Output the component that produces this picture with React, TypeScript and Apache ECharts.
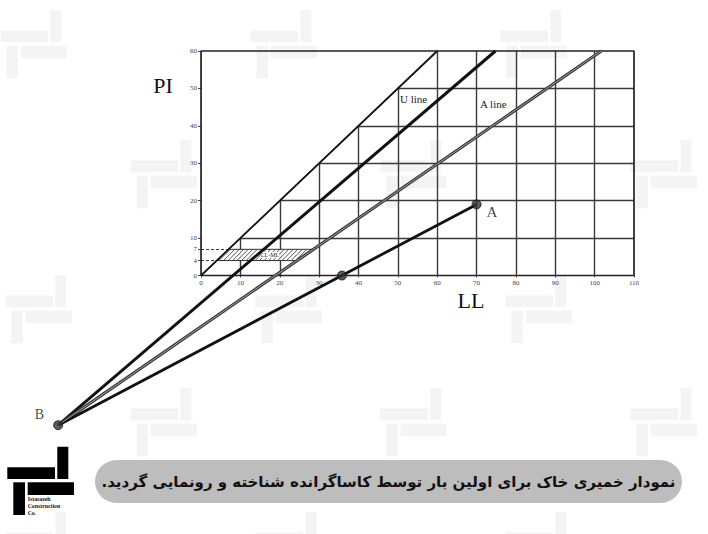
import React, { useEffect, useRef } from "react";
import * as echarts from "echarts";

// ---- data ----
const llTicks = [0, 10, 20, 30, 40, 50, 60, 70, 80, 90, 100, 110];
const piTicks = [0, 4, 7, 10, 20, 30, 40, 50, 60];
const gridLL = [10, 20, 30, 40, 50, 60, 70, 80, 90, 100];
const gridPI = [10, 20, 30, 40, 50];
const dashedPI = [4, 7];
const boxPts = [[0, 0], [0, 60], [110, 60], [110, 0], [0, 0]];
const limitLine = [[0, 0], [60, 60]];
const pointB = [-36.3, -40];
const pointMid = [35.8, 0];
const pointA = [70, 19];
const uLineEnd = [74.8, 60];
const aLineEnd = [101.7, 60];
const clmlZone = [[4, 4], [7, 7], [28.5, 7], [24.4, 4]];
const caption = "نمودار خمیری خاک برای اولین بار توسط کاساگرانده شناخته و رونمایی گردید.";
const logoLines = ["Istasazeh", "Construction", "Co."];

const SERIF = "'Liberation Serif', 'DejaVu Serif', serif";

// layout (pixels)
const X_MIN = -40, X_MAX = 110, Y_MIN = -50, Y_MAX = 60;
const G_LEFT = 43.6, G_RIGHT = 74, G_TOP = 51, G_BOTTOM = 71.4;

function clipSeg(p0: number[], p1: number[], poly: number[][]) {
  const cx = poly.reduce((s, p) => s + p[0], 0) / poly.length;
  const cy = poly.reduce((s, p) => s + p[1], 0) / poly.length;
  let t0 = 0, t1 = 1;
  const dx = p1[0] - p0[0], dy = p1[1] - p0[1];
  for (let i = 0; i < poly.length; i++) {
    const e0 = poly[i], e1 = poly[(i + 1) % poly.length];
    let nx = -(e1[1] - e0[1]), ny = e1[0] - e0[0];
    if (nx * (cx - e0[0]) + ny * (cy - e0[1]) < 0) { nx = -nx; ny = -ny; }
    const num = nx * (p0[0] - e0[0]) + ny * (p0[1] - e0[1]);
    const den = nx * dx + ny * dy;
    if (Math.abs(den) < 1e-9) { if (num < 0) return null; continue; }
    const t = -num / den;
    if (den > 0) t0 = Math.max(t0, t); else t1 = Math.min(t1, t);
  }
  if (t0 >= t1) return null;
  return [p0[0] + t0 * dx, p0[1] + t0 * dy, p0[0] + t1 * dx, p0[1] + t1 * dy];
}

function logo(ox: number, oy: number, fill: string) {
  return [
    [50.3, 0, 11, 32.3], [0.3, 20.6, 47.7, 11.7], [20.7, 35.6, 46.3, 12.7], [6.3, 35.6, 11.7, 32.7],
  ].map(([x, y, w, h]) => ({
    type: "rect", silent: true, shape: { x: ox + x, y: oy + y, width: w, height: h }, style: { fill },
  }));
}

const watermarkOrigins = [
  [0, 10], [250, 10], [500, 10],
  [130, 140], [380, 140], [630, 140],
  [5, 275], [255, 275], [505, 275],
  [130, 388], [380, 388], [630, 388],
  [5, 512], [255, 512], [505, 512],
];

export default function App() {
  const ref = useRef<HTMLDivElement>(null);
  useEffect(() => {
    if (!ref.current) return;
    const chart = echarts.init(ref.current, null, { renderer: "svg" });

    const plotW = 708 - G_LEFT - G_RIGHT;
    const plotH = 534 - G_TOP - G_BOTTOM;
    // shift axes so that they sit at LL = 0 / PI = 0
    const xAxisOffset = -((0 - Y_MIN) / (Y_MAX - Y_MIN)) * plotH;
    const yAxisOffset = -((0 - X_MIN) / (X_MAX - X_MIN)) * plotW;

    const gridSegs = [
      ...gridLL.map((l) => ({ coords: [[l, 0], [l, Math.min(l, 60)]] })),
      ...gridPI.map((p) => ({ coords: [[p, p], [110, p]] })),
    ];
    const dashSegs = dashedPI.map((p) => ({ coords: [[0, p], [p, p]] }));

    const lineSeries = (data: number[][], color: string, width: number, z = 3) => ({
      type: "line", data, symbol: "none", z, silent: true,
      lineStyle: { color, width }, clip: false,
    });

    const wm: any[] = [];
    watermarkOrigins.forEach(([x, y]) => wm.push(...logo(x, y, "#f4f4f4")));

    chart.setOption({
      animation: false,
      backgroundColor: "#ffffff",
      grid: { left: G_LEFT, right: G_RIGHT, top: G_TOP, bottom: G_BOTTOM, containLabel: false },
      xAxis: {
        type: "value", min: X_MIN, max: X_MAX, position: "bottom", offset: xAxisOffset,
        axisLine: { show: false, onZero: false },
        splitLine: { show: false },
        axisTick: { show: true, customValues: llTicks, length: 2, lineStyle: { color: "#444" } },
        axisLabel: { customValues: llTicks, fontSize: 7, fontFamily: SERIF, color: "#444", margin: 4 },
      },
      yAxis: {
        type: "value", min: Y_MIN, max: Y_MAX, position: "left", offset: yAxisOffset,
        axisLine: { show: false, onZero: false },
        splitLine: { show: false },
        axisTick: { show: true, customValues: piTicks, length: 3, lineStyle: { color: "#444" } },
        axisLabel: { customValues: piTicks, fontSize: 7, fontFamily: SERIF, color: "#444", margin: 4 },
      },
      graphic: [
        ...wm,
        { type: "text", silent: true, style: { text: "PI", x: 163, y: 85, fontSize: 22, fontFamily: SERIF, fill: "#111", textAlign: "center", textVerticalAlign: "middle" } },
        { type: "text", silent: true, style: { text: "LL", x: 471, y: 300, fontSize: 22, fontFamily: SERIF, fill: "#111", textAlign: "center", textVerticalAlign: "middle" } },
        { type: "text", silent: true, z: 10, style: { text: "U line", x: 400, y: 99, fontSize: 11, fontFamily: SERIF, fill: "#222", textAlign: "left", textVerticalAlign: "middle" } },
        { type: "text", silent: true, z: 10, style: { text: "A line", x: 480, y: 104, fontSize: 11, fontFamily: SERIF, fill: "#222", textAlign: "left", textVerticalAlign: "middle" } },
        { type: "rect", silent: true, shape: { x: 95, y: 460, width: 587, height: 43, r: 21.5 }, style: { fill: "#bdbdbd" } },
        { type: "text", silent: true, style: { text: caption + "\u200F", x: 388.5, y: 482, fontSize: 15, fontWeight: "bold", fontFamily: "'DejaVu Sans', sans-serif", fill: "#111", textAlign: "center", textVerticalAlign: "middle" } },
        ...logo(7, 446.7, "#000"),
        ...logoLines.map((t, i) => ({
          type: "text", silent: true,
          style: { text: t, x: 27.7, y: 499 + i * 7, fontSize: 5.8, fontWeight: "bold", fontFamily: SERIF, fill: "#111", textVerticalAlign: "middle" },
        })),
      ],
      series: [
        {
          type: "lines", coordinateSystem: "cartesian2d", data: gridSegs, silent: true, z: 2,
          lineStyle: { color: "#3a3a3a", width: 1.4, opacity: 1 },
        },
        {
          type: "lines", coordinateSystem: "cartesian2d", data: dashSegs, silent: true, z: 2,
          lineStyle: { color: "#333", width: 1.2, type: [3, 2], opacity: 1 },
        },
        lineSeries(boxPts, "#222", 1.7),
        {
          type: "custom", coordinateSystem: "cartesian2d", data: [[0, 0]], silent: true, z: 3, clip: false,
          renderItem: (params: any, api: any) => {
            const poly = clmlZone.map((c) => api.coord(c));
            const ys = poly.map((p) => p[1]);
            const xs = poly.map((p) => p[0]);
            const minY = Math.min(...ys), maxY = Math.max(...ys);
            const minX = Math.min(...xs), maxX = Math.max(...xs);
            const h = maxY - minY;
            const children: any[] = [
              { type: "polygon", shape: { points: poly }, style: { fill: "rgba(255,255,255,0.9)", stroke: "#333", lineWidth: 1 } },
            ];
            for (let c = minX - h; c < maxX; c += 4.5) {
              const seg = clipSeg([c, maxY], [c + h, minY], poly);
              if (seg) children.push({ type: "line", shape: { x1: seg[0], y1: seg[1], x2: seg[2], y2: seg[3] }, style: { stroke: "#444", lineWidth: 0.9 } });
            }
            const cx = xs.reduce((s, v) => s + v, 0) / 4;
            const cy = ys.reduce((s, v) => s + v, 0) / 4;
            children.push({ type: "text", style: { text: "CL-ML", x: cx + 6, y: cy, fontSize: 6, fontFamily: SERIF, fill: "#222", backgroundColor: "#fff", align: "center", verticalAlign: "middle" } });
            return { type: "group", children };
          },
        },
        lineSeries(limitLine, "#111", 1.8),
        lineSeries([pointB, uLineEnd], "#111", 3),
        lineSeries([pointB, aLineEnd], "#3a3a3a", 3.2),
        lineSeries([pointB, aLineEnd], "#a8a8a8", 0.9, 4),
        lineSeries([pointB, pointMid, pointA], "#111", 2.8),
        {
          type: "scatter", z: 5, silent: true, symbolSize: 9, clip: false,
          itemStyle: { color: "#333", borderColor: "#111", borderWidth: 1 },
          data: [
            { value: pointB, name: "B", label: { show: true, position: "left", offset: [-4, -11], formatter: "{b}", fontSize: 14, fontFamily: SERIF, color: "#111" } },
            { value: pointMid, name: "" },
            { value: pointA, name: "A", label: { show: true, position: "right", offset: [0, 8], formatter: "{b}", fontSize: 15, fontFamily: SERIF, color: "#111" } },
          ],
        },
      ],
    });
    return () => chart.dispose();
  }, []);
  return <div ref={ref} style={{ position: "absolute", left: 0, top: 0, width: 708, height: 534 }} />;
}
